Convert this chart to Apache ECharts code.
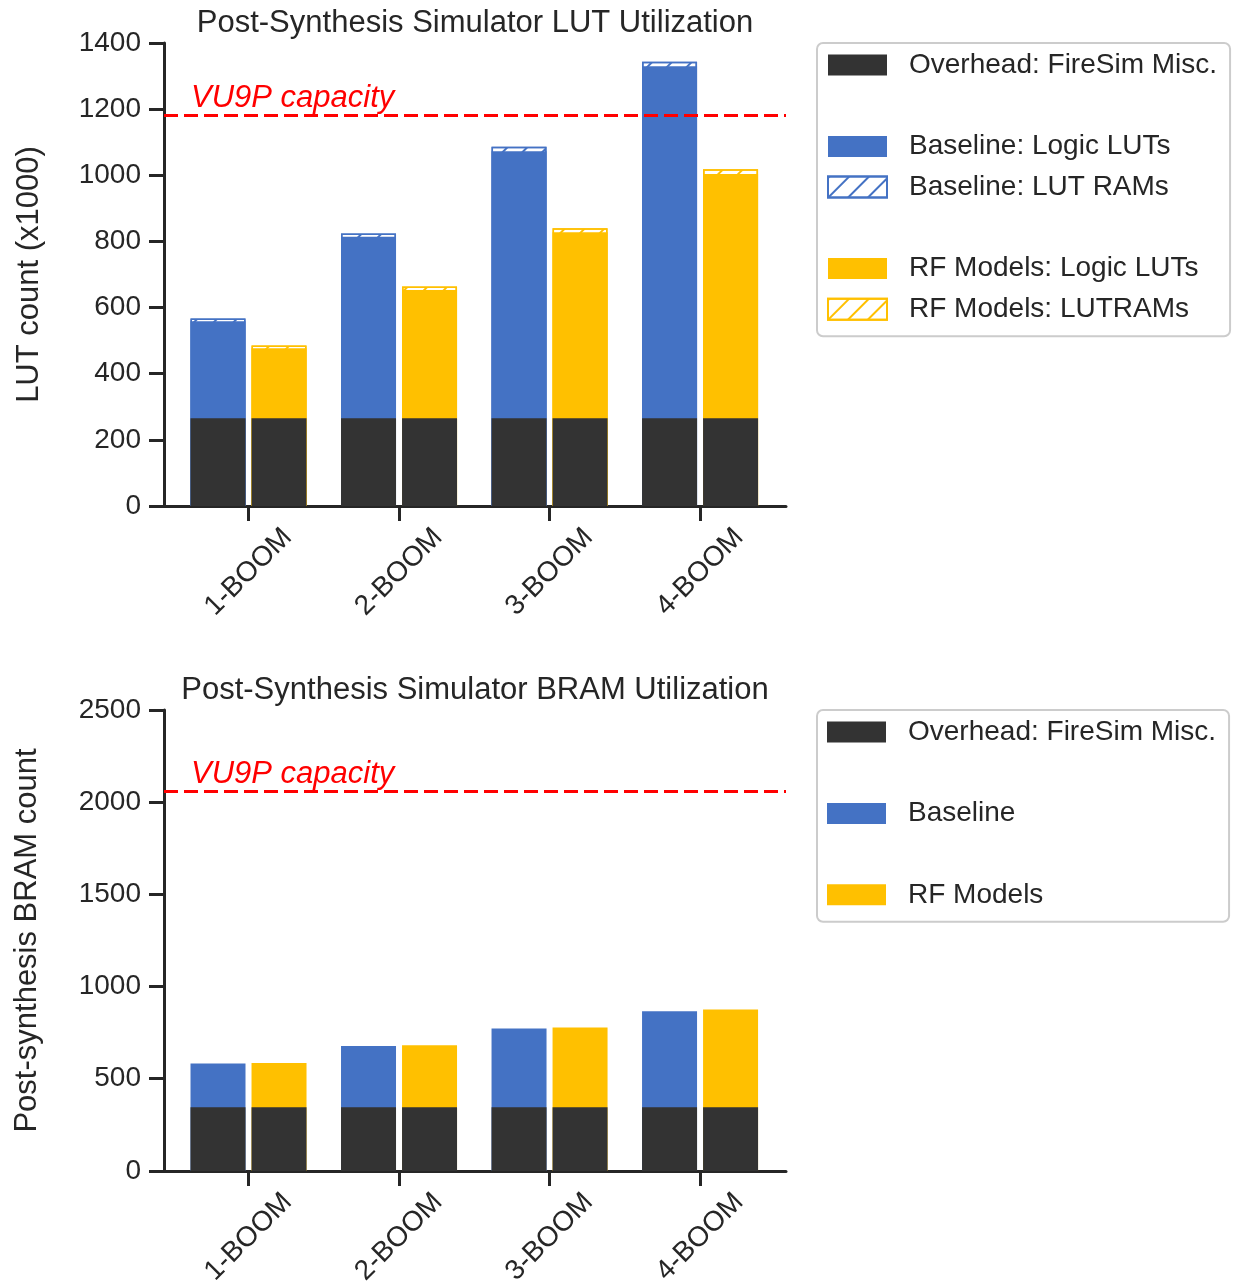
<!DOCTYPE html>
<html>
<head>
<meta charset="utf-8">
<script src="https://cdn.jsdelivr.net/npm/echarts@6/dist/echarts.min.js"></script>
<style>
  html, body { margin: 0; padding: 0; background: #ffffff; }
  #chart { width: 1238px; height: 1288px; }
</style>
</head>
<body>
<div id="chart"></div>
<script>
// ---------------- data ----------------
const categories = ['1-BOOM', '2-BOOM', '3-BOOM', '4-BOOM'];

// LUT utilization (x1000)
const lutOverhead      = [265, 265, 265, 265];
const lutBaselineLogic = [294, 549, 808, 1065];
const lutBaselineRam   = [8, 10, 13, 13];
const lutRfLogic       = [212, 388, 563, 739];
const lutRfRam         = [8, 11, 12, 14];
const lutCapacity      = 1182;
const lutAxisMax = 1400, lutAxisStep = 200;

// BRAM utilization
const bramOverhead = [345, 345, 345, 345];
const bramBaseline = [238, 333, 427, 521];
const bramRf       = [241, 337, 433, 530];
const bramCapacity = 2060;
const bramAxisMax = 2500, bramAxisStep = 500;

// ---------------- styles / layout ----------------
const FONT = "'Liberation Sans', Arial, 'DejaVu Sans', sans-serif";
const TXT = '#262626';
const DARK = '#333333';
const BLUE = '#4472C4';
const GOLD = '#FFC000';
const RED = '#FF0000';
const X_MIN = -0.5615, X_MAX = 3.571;
const GROUP_OFFSET = 0.2027;   // half of (bar width + gap) in axis units
const BAR_W = 55;
const SMALL = 28, LARGE = 31;

const positions = categories.map((c, i) => i);
const basePos = i => i - GROUP_OFFSET;
const rfPos = i => i + GROUP_OFFSET;
const sum = (...arrs) => arrs[0].map((_, i) => arrs.reduce((s, a) => s + a[i], 0));

function hatch(color) {
  return {
    color: '#ffffff',
    borderColor: color,
    borderWidth: 1.5,
    decal: {
      symbol: 'rect', symbolSize: 1, color: color,
      dashArrayX: [1, 0], dashArrayY: [2, 12], rotation: -Math.PI / 4
    }
  };
}

function xAxis(gi) {
  return {
    type: 'value', gridIndex: gi, min: X_MIN, max: X_MAX,
    axisLine: { show: true, onZero: false, lineStyle: { color: TXT, width: 3 } },
    axisTick: { show: true, customValues: positions, length: 15, lineStyle: { color: TXT, width: 3 } },
    axisLabel: {
      customValues: positions, formatter: v => categories[Math.round(v)],
      rotate: 45, align: 'center', verticalAlign: 'middle', margin: 66,
      fontSize: SMALL, color: TXT, fontFamily: FONT
    },
    splitLine: { show: false }
  };
}
function yAxis(gi, max, step, name, gap) {
  return {
    type: 'value', gridIndex: gi, min: 0, max: max, interval: step,
    axisLine: { show: true, onZero: false, lineStyle: { color: TXT, width: 3 } },
    axisTick: { show: true, length: 15, lineStyle: { color: TXT, width: 3 } },
    axisLabel: { fontSize: SMALL, margin: 23, color: TXT, fontFamily: FONT, formatter: v => String(v) },
    splitLine: { show: false },
    name: name, nameLocation: 'middle', nameGap: gap,
    nameTextStyle: { fontSize: LARGE, color: TXT, fontFamily: FONT }
  };
}
function capacityLine(value) {
  return {
    silent: true, symbol: ['none', 'none'], animation: false,
    lineStyle: { color: RED, type: [14, 6], width: 3 },
    label: {
      show: true, position: 'insideStartTop', formatter: 'VU9P capacity',
      color: RED, fontStyle: 'italic', fontSize: LARGE, fontFamily: FONT, distance: [27, 1]
    },
    data: [{ yAxis: value }]
  };
}
function legend(top, data) {
  return {
    left: 817, top: top, orient: 'vertical', icon: 'rect',
    itemWidth: 59, itemHeight: 21, itemGap: 12.7,
    padding: [8, 13, 13, 10],
    borderColor: '#cccccc', borderWidth: 2, borderRadius: 6, backgroundColor: '#ffffff',
    selectedMode: false,
    textStyle: { fontSize: SMALL, lineHeight: 28, color: TXT, fontFamily: FONT, padding: [0, 0, 0, 17] },
    data: data
  };
}
const blank = n => ({ name: n, icon: 'none' });
const dummy = (n, gi) => ({ type: 'line', name: n, xAxisIndex: gi, yAxisIndex: gi, data: [] });

const barBase = gi => ({ type: 'bar', xAxisIndex: gi, yAxisIndex: gi, barWidth: BAR_W, barGap: '-100%' });

const lutBaseTotal = sum(lutOverhead, lutBaselineLogic, lutBaselineRam);
const lutBaseLogicTop = sum(lutOverhead, lutBaselineLogic);
const lutRfTotal = sum(lutOverhead, lutRfLogic, lutRfRam);
const lutRfLogicTop = sum(lutOverhead, lutRfLogic);
const bramBaseTop = sum(bramOverhead, bramBaseline);
const bramRfTop = sum(bramOverhead, bramRf);

const OVER = 'Overhead: FireSim Misc.';

const option = {
  animation: false,
  backgroundColor: '#ffffff',
  textStyle: { fontFamily: FONT },
  title: [
    { text: 'Post-Synthesis Simulator LUT Utilization', left: 475, top: 8, textAlign: 'center', padding: 0,
      textStyle: { fontSize: LARGE, fontWeight: 'normal', color: TXT, fontFamily: FONT } },
    { text: 'Post-Synthesis Simulator BRAM Utilization', left: 475, top: 675, textAlign: 'center', padding: 0,
      textStyle: { fontSize: LARGE, fontWeight: 'normal', color: TXT, fontFamily: FONT } }
  ],
  grid: [
    { left: 164, right: 452, top: 43, bottom: 782 },
    { left: 164, right: 452, top: 710, bottom: 116 }
  ],
  xAxis: [xAxis(0), xAxis(1)],
  yAxis: [
    yAxis(0, lutAxisMax, lutAxisStep, 'LUT count (x1000)', 119),
    yAxis(1, bramAxisMax, bramAxisStep, 'Post-synthesis BRAM count', 121)
  ],
  legend: [
    legend(43, [OVER, blank(' '), 'Baseline: Logic LUTs', 'Baseline: LUT RAMs', blank('  '),
                'RF Models: Logic LUTs', 'RF Models: LUTRAMs']),
    legend(710, [OVER, blank('   '), 'Baseline', blank('    '), 'RF Models'])
  ],
  series: [
    // ---- LUT chart ----
    Object.assign(barBase(0), { name: 'Baseline: LUT RAMs', itemStyle: hatch(BLUE),
      data: lutBaseTotal.map((v, i) => [basePos(i), v]) }),
    Object.assign(barBase(0), { name: 'Baseline: Logic LUTs', itemStyle: { color: BLUE },
      data: lutBaseLogicTop.map((v, i) => [basePos(i), v]) }),
    Object.assign(barBase(0), { name: 'RF Models: LUTRAMs', itemStyle: hatch(GOLD),
      data: lutRfTotal.map((v, i) => [rfPos(i), v]) }),
    Object.assign(barBase(0), { name: 'RF Models: Logic LUTs', itemStyle: { color: GOLD },
      data: lutRfLogicTop.map((v, i) => [rfPos(i), v]) }),
    Object.assign(barBase(0), { name: OVER, itemStyle: { color: DARK },
      data: lutOverhead.flatMap((v, i) => [[basePos(i), v], [rfPos(i), v]]),
      markLine: capacityLine(lutCapacity) }),
    // ---- BRAM chart ----
    Object.assign(barBase(1), { name: 'Baseline', itemStyle: { color: BLUE },
      data: bramBaseTop.map((v, i) => [basePos(i), v]) }),
    Object.assign(barBase(1), { name: 'RF Models', itemStyle: { color: GOLD },
      data: bramRfTop.map((v, i) => [rfPos(i), v]) }),
    Object.assign(barBase(1), { name: OVER, itemStyle: { color: DARK },
      data: bramOverhead.flatMap((v, i) => [[basePos(i), v], [rfPos(i), v]]),
      markLine: capacityLine(bramCapacity) }),
    // ---- blank legend rows ----
    dummy(' ', 0), dummy('  ', 0), dummy('   ', 1), dummy('    ', 1)
  ]
};

const chart = echarts.init(document.getElementById('chart'), null, { renderer: 'canvas' });
chart.setOption(option);
</script>
</body>
</html>
